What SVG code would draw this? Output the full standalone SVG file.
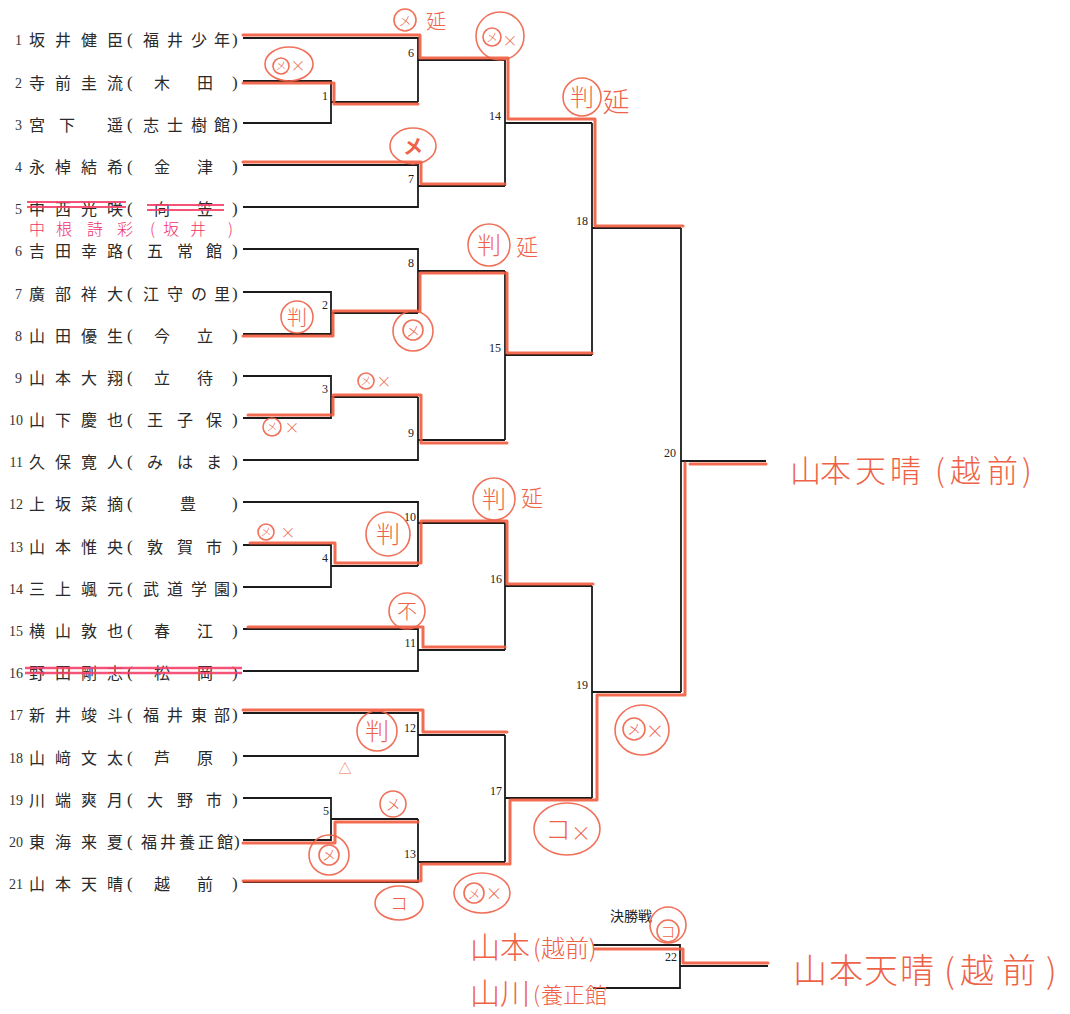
<svg xmlns="http://www.w3.org/2000/svg" width="1070" height="1014" viewBox="0 0 1070 1014">
<style>
.bk{fill:none;stroke:#1b1b1b;stroke-width:1.8;stroke-linejoin:miter}
.rd{fill:none;stroke:#f0583a;stroke-width:3;stroke-linejoin:round;stroke-linecap:round;opacity:0.88}
.no{font-family:"Liberation Serif",serif;font-size:14px;fill:#333;text-anchor:end}
.nm{font-family:"Noto Sans CJK JP","Noto Sans CJK SC",sans-serif;font-size:16px;fill:#2a2a2a}
.pr{font-family:"Liberation Serif",serif;font-size:17px;fill:#2a2a2a}
.lb{font-family:"Liberation Serif",serif;font-size:12px;fill:#222;text-anchor:end}
.ttl{font-family:"Noto Sans CJK JP",sans-serif;font-size:14px;fill:#222}
.st{stroke:#f5406a;stroke-width:2;fill:none;opacity:0.9}
.pk{font-family:"Noto Sans CJK JP",sans-serif;font-size:16px;fill:#f0306a;font-weight:300}
.hc{fill:none;stroke:#ee6248;stroke-width:1.6;opacity:0.9}
.hw{font-family:"Noto Sans CJK JP",sans-serif;fill:#ee6248;font-weight:300;text-anchor:middle}
.big{font-family:"Noto Sans CJK JP",sans-serif;fill:#ee6248;font-weight:300}
</style>
<rect width="1070" height="1014" fill="#ffffff"/>

<g id="entries">
<g id="e1"><text class="no" x="22" y="45">1</text><text class="nm" x="29 55 81 107" y="46">坂井健臣</text><text class="pr" x="127" y="45">(</text><text class="nm" x="143 167 191 214" y="46">福井少年</text><text class="pr" x="232" y="45">)</text></g>
<g id="e2"><text class="no" x="22" y="88">2</text><text class="nm" x="29 55 81 107" y="89">寺前圭流</text><text class="pr" x="127" y="88">(</text><text class="nm" x="154 197" y="89">木田</text><text class="pr" x="232" y="88">)</text></g>
<g id="e3"><text class="no" x="22" y="130">3</text><text class="nm" x="29 59 107" y="131">宮下遥</text><text class="pr" x="127" y="130">(</text><text class="nm" x="143 167 191 214" y="131">志士樹館</text><text class="pr" x="232" y="130">)</text></g>
<g id="e4"><text class="no" x="22" y="172">4</text><text class="nm" x="29 55 81 107" y="173">永棹結希</text><text class="pr" x="127" y="172">(</text><text class="nm" x="154 197" y="173">金津</text><text class="pr" x="232" y="172">)</text></g>
<g id="e5"><text class="no" x="22" y="214">5</text><text class="nm" x="29 55 81 107" y="215">中西光咲</text><text class="pr" x="127" y="214">(</text><text class="nm" x="154 197" y="215">向笠</text><text class="pr" x="232" y="214">)</text></g>
<g id="e6"><text class="no" x="22" y="256">6</text><text class="nm" x="29 55 81 107" y="257">吉田幸路</text><text class="pr" x="127" y="256">(</text><text class="nm" x="147 177 206" y="257">五常館</text><text class="pr" x="232" y="256">)</text></g>
<g id="e7"><text class="no" x="22" y="299">7</text><text class="nm" x="29 55 81 107" y="300">廣部祥大</text><text class="pr" x="127" y="299">(</text><text class="nm" x="143 167 191 214" y="300">江守の里</text><text class="pr" x="232" y="299">)</text></g>
<g id="e8"><text class="no" x="22" y="341">8</text><text class="nm" x="29 55 81 107" y="342">山田優生</text><text class="pr" x="127" y="341">(</text><text class="nm" x="154 197" y="342">今立</text><text class="pr" x="232" y="341">)</text></g>
<g id="e9"><text class="no" x="22" y="383">9</text><text class="nm" x="29 55 81 107" y="384">山本大翔</text><text class="pr" x="127" y="383">(</text><text class="nm" x="154 197" y="384">立待</text><text class="pr" x="232" y="383">)</text></g>
<g id="e10"><text class="no" x="23" y="425">10</text><text class="nm" x="29 55 81 107" y="426">山下慶也</text><text class="pr" x="127" y="425">(</text><text class="nm" x="147 177 206" y="426">王子保</text><text class="pr" x="232" y="425">)</text></g>
<g id="e11"><text class="no" x="23" y="467">11</text><text class="nm" x="29 55 81 107" y="468">久保寛人</text><text class="pr" x="127" y="467">(</text><text class="nm" x="147 177 206" y="468">みはま</text><text class="pr" x="232" y="467">)</text></g>
<g id="e12"><text class="no" x="23" y="509">12</text><text class="nm" x="29 55 81 107" y="510">上坂菜摘</text><text class="pr" x="127" y="509">(</text><text class="nm" x="180" y="510">豊</text><text class="pr" x="232" y="509">)</text></g>
<g id="e13"><text class="no" x="23" y="552">13</text><text class="nm" x="29 55 81 107" y="553">山本惟央</text><text class="pr" x="127" y="552">(</text><text class="nm" x="147 177 206" y="553">敦賀市</text><text class="pr" x="232" y="552">)</text></g>
<g id="e14"><text class="no" x="23" y="594">14</text><text class="nm" x="29 55 81 107" y="595">三上颯元</text><text class="pr" x="127" y="594">(</text><text class="nm" x="143 167 191 214" y="595">武道学園</text><text class="pr" x="232" y="594">)</text></g>
<g id="e15"><text class="no" x="23" y="636">15</text><text class="nm" x="29 55 81 107" y="637">横山敦也</text><text class="pr" x="127" y="636">(</text><text class="nm" x="154 197" y="637">春江</text><text class="pr" x="232" y="636">)</text></g>
<g id="e16"><text class="no" x="23" y="678">16</text><text class="nm" x="29 55 81 107" y="679">野田剛志</text><text class="pr" x="127" y="678">(</text><text class="nm" x="154 197" y="679">松岡</text><text class="pr" x="232" y="678">)</text></g>
<g id="e17"><text class="no" x="23" y="720">17</text><text class="nm" x="29 55 81 107" y="721">新井竣斗</text><text class="pr" x="127" y="720">(</text><text class="nm" x="143 167 191 214" y="721">福井東部</text><text class="pr" x="232" y="720">)</text></g>
<g id="e18"><text class="no" x="23" y="763">18</text><text class="nm" x="29 55 81 107" y="764">山﨑文太</text><text class="pr" x="127" y="763">(</text><text class="nm" x="154 197" y="764">芦原</text><text class="pr" x="232" y="763">)</text></g>
<g id="e19"><text class="no" x="23" y="805">19</text><text class="nm" x="29 55 81 107" y="806">川端爽月</text><text class="pr" x="127" y="805">(</text><text class="nm" x="147 177 206" y="806">大野市</text><text class="pr" x="232" y="805">)</text></g>
<g id="e20"><text class="no" x="23" y="847">20</text><text class="nm" x="29 55 81 107" y="848">東海来夏</text><text class="pr" x="127" y="847">(</text><text class="nm" x="141 160 179 198 217" y="848">福井養正館</text><text class="pr" x="234" y="847">)</text></g>
<g id="e21"><text class="no" x="23" y="889">21</text><text class="nm" x="29 55 81 107" y="890">山本天晴</text><text class="pr" x="127" y="889">(</text><text class="nm" x="154 197" y="890">越前</text><text class="pr" x="232" y="889">)</text></g>
</g>

<g id="connectors">
<path class="bk" d="M243,81H331V123H243M331,102H418"/>
<path class="bk" d="M243,292H331V334H243M331,313H418"/>
<path class="bk" d="M243,376H331V418H243M331,397H418"/>
<path class="bk" d="M243,545H331V587H243M331,566H418"/>
<path class="bk" d="M243,798H331V840H243M331,819H418"/>
<path class="bk" d="M243,38H418V102M418,60H505"/>
<path class="bk" d="M243,165H418V207H243M418,186H505"/>
<path class="bk" d="M243,249H418V313M418,271H505"/>
<path class="bk" d="M418,397V460H243M418,440H505"/>
<path class="bk" d="M243,502H418V566M418,523H505"/>
<path class="bk" d="M243,629H418V671H243M418,650H505"/>
<path class="bk" d="M243,713H418V756H243M418,735H505"/>
<path class="bk" d="M418,819V882H243M418,862H505"/>
<path class="bk" d="M505,60V186M505,123H592"/>
<path class="bk" d="M505,271V440M505,355H592"/>
<path class="bk" d="M505,523V650M505,586H592"/>
<path class="bk" d="M505,735V862M505,798H592"/>
<path class="bk" d="M592,123V355M592,228H681"/>
<path class="bk" d="M592,586V798M592,692H681"/>
<path class="bk" d="M681,228V692M681,461H766"/>
<path class="bk" d="M593,945H680V988H593M680,966H768"/>
</g>

<g id="winner-marks">
<path class="rd" d="M243,35H420V58H508V119H595V226H683"/>
<path class="rd" d="M243,83H334V104H418"/>
<path class="rd" d="M243,162H421V184H505"/>
<path class="rd" d="M243,336H333V311H420V273H507V353H592"/>
<path class="rd" d="M248,415H333V395H421V443H507"/>
<path class="rd" d="M250,543H335V563H421V521H507V584H593"/>
<path class="rd" d="M248,627H423V647H505"/>
<path class="rd" d="M243,710H423V732H507"/>
<path class="rd" d="M243,843H335V822H418"/>
<path class="rd" d="M243,881H421V864H510V800H597V695H685V463"/>
<path class="rd" d="M690,464H766"/>
<path class="rd" d="M595,949H683V963H768"/>
</g>

<g id="matches">
<g id="m1"><text class="lb" x="328" y="100">1</text></g>
<g id="m2"><text class="lb" x="328" y="309">2</text></g>
<g id="m3"><text class="lb" x="328" y="393">3</text></g>
<g id="m4"><text class="lb" x="328" y="562">4</text></g>
<g id="m5"><text class="lb" x="329" y="815">5</text></g>
<g id="m6"><text class="lb" x="414" y="57">6</text></g>
<g id="m7"><text class="lb" x="414" y="183">7</text></g>
<g id="m8"><text class="lb" x="414" y="267">8</text></g>
<g id="m9"><text class="lb" x="414" y="437">9</text></g>
<g id="m10"><text class="lb" x="416" y="521">10</text></g>
<g id="m11"><text class="lb" x="416" y="647">11</text></g>
<g id="m12"><text class="lb" x="416" y="732">12</text></g>
<g id="m13"><text class="lb" x="416" y="858">13</text></g>
<g id="m14"><text class="lb" x="501" y="120">14</text></g>
<g id="m15"><text class="lb" x="501" y="352">15</text></g>
<g id="m16"><text class="lb" x="502" y="583">16</text></g>
<g id="m17"><text class="lb" x="502" y="795">17</text></g>
<g id="m18"><text class="lb" x="588" y="225">18</text></g>
<g id="m19"><text class="lb" x="588" y="689">19</text></g>
<g id="m20"><text class="lb" x="676" y="457">20</text></g>
<g id="m22"><text class="ttl" x="610" y="921">決勝戦</text><text class="lb" x="677" y="961">22</text></g>
</g>

<g id="strikes">
<path class="st" d="M27,202H126M27,207H126M147,205H224M147,210H224"/>
<path class="st" d="M25,668H242M25,673H242" style="stroke-width:2.5"/>
<text class="pk" x="29 56 87 117 150 163 190 228" y="235">中根詩彩(坂井)</text>
</g>

<g id="annotations">
<circle class="hc" cx="405" cy="20" r="11"/><text class="hw" x="405" y="25" font-size="13">メ</text><text class="hw" x="436" y="29" font-size="20">延</text>
<circle class="hc" cx="500" cy="36" r="24"/><circle class="hc" cx="492" cy="37" r="9"/><text class="hw" x="492" y="42" font-size="12">メ</text><text class="hw" x="510" y="46" font-size="15">×</text>
<ellipse class="hc" cx="289" cy="64" rx="24" ry="17"/><circle class="hc" cx="281" cy="66" r="8"/><text class="hw" x="281" y="70" font-size="11">メ</text><text class="hw" x="298" y="71" font-size="15">×</text>
<circle class="hc" cx="582" cy="97" r="19"/><text class="hw" x="582" y="106" font-size="24">判</text><text class="hw" x="616" y="112" font-size="27">延</text>
<ellipse class="hc" cx="413" cy="146" rx="23" ry="18"/><text class="hw" x="413" y="154" font-size="20" style="font-weight:700">メ</text>
<circle class="hc" cx="489" cy="245" r="21"/><text class="hw" x="489" y="254" font-size="24">判</text><text class="hw" x="527" y="255" font-size="22">延</text>
<circle class="hc" cx="413" cy="331" r="20"/><circle class="hc" cx="413" cy="330" r="10"/><text class="hw" x="413" y="336" font-size="14">メ</text>
<circle class="hc" cx="297" cy="317" r="16"/><text class="hw" x="297" y="325" font-size="20">判</text>
<circle class="hc" cx="366" cy="381" r="8"/><text class="hw" x="366" y="385" font-size="11">メ</text><text class="hw" x="384" y="387" font-size="15">×</text>
<circle class="hc" cx="272" cy="427" r="9"/><text class="hw" x="272" y="431" font-size="11">メ</text><text class="hw" x="292" y="433" font-size="15">×</text>
<circle class="hc" cx="494" cy="499" r="21"/><text class="hw" x="494" y="508" font-size="24">判</text><text class="hw" x="532" y="506" font-size="22">延</text>
<circle class="hc" cx="266" cy="532" r="8"/><text class="hw" x="266" y="536" font-size="11">メ</text><text class="hw" x="288" y="538" font-size="15">×</text>
<circle class="hc" cx="388" cy="534" r="22"/><text class="hw" x="388" y="543" font-size="24">判</text>
<circle class="hc" cx="407" cy="611" r="18"/><text class="hw" x="407" y="619" font-size="20">不</text>
<circle class="hc" cx="377" cy="731" r="20"/><text class="hw" x="377" y="740" font-size="24">判</text>
<text class="hw" x="345" y="773" font-size="13">△</text>
<circle class="hc" cx="393" cy="804" r="13"/><text class="hw" x="393" y="810" font-size="15">メ</text>
<circle class="hc" cx="329" cy="855" r="20"/><circle class="hc" cx="329" cy="855" r="10"/><text class="hw" x="329" y="860" font-size="14">メ</text>
<ellipse class="hc" cx="399" cy="903" rx="24" ry="17"/><text class="hw" x="399" y="910" font-size="18">コ</text>
<ellipse class="hc" cx="482" cy="893" rx="28" ry="20"/><circle class="hc" cx="474" cy="893" r="10"/><text class="hw" x="474" y="898" font-size="13">メ</text><text class="hw" x="494" y="900" font-size="17">×</text>
<ellipse class="hc" cx="567" cy="829" rx="33" ry="26"/><text class="hw" x="558" y="839" font-size="26">コ</text><text class="hw" x="581" y="841" font-size="20">×</text>
<ellipse class="hc" cx="642" cy="730" rx="27" ry="25"/><circle class="hc" cx="634" cy="729" r="11"/><text class="hw" x="634" y="734" font-size="14">メ</text><text class="hw" x="655" y="738" font-size="18">×</text>
<circle class="hc" cx="668" cy="925" r="18"/><circle class="hc" cx="668" cy="931" r="11"/><text class="hw" x="668" y="937" font-size="15">コ</text>
</g>

<g id="results">
<text class="big" x="470 500" y="958" style="font-size:30px">山本</text><text class="big" x="533 541 565 589" y="957" style="font-size:24px">(越前)</text>
<text class="big" x="470 500" y="1004" style="font-size:30px">山川</text><text class="big" x="533 541 563 585" y="1003" style="font-size:22px">(養正館</text>
<text class="big" x="790 820 855 890 935 950 987 1022" y="482" style="font-size:31px">山本天晴(越前)</text>
<text class="big" x="793 829 864 900 944 960 1002 1046" y="983" style="font-size:34px">山本天晴(越前)</text>
</g>
</svg>
